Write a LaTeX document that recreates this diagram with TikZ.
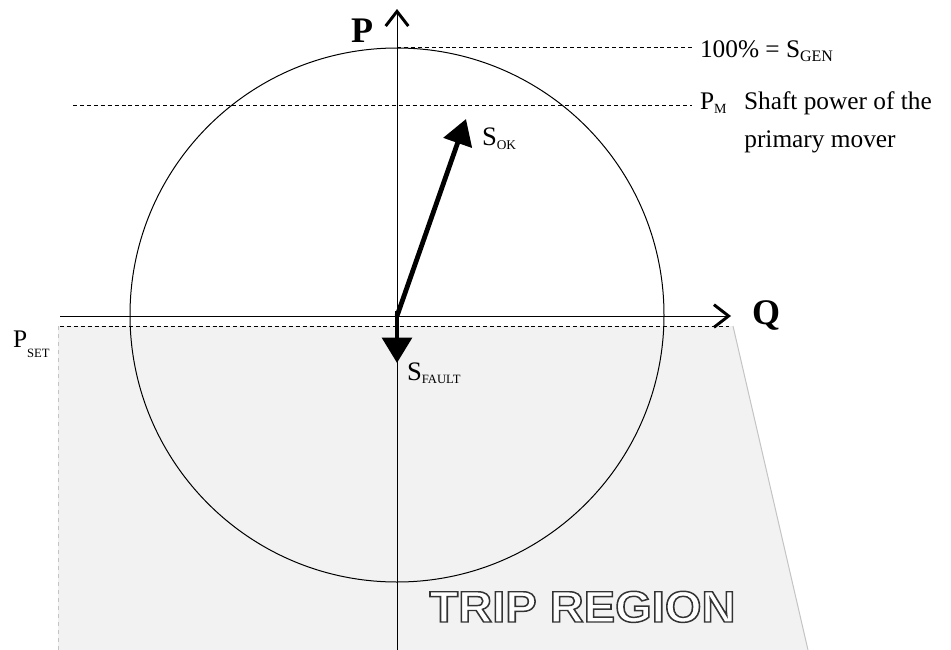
\documentclass[tikz,border=0pt]{standalone}
\usepackage{fontspec}
\setmainfont{Liberation Serif}
\newfontfamily\tripfont{Liberation Sans}
\usetikzlibrary{arrows.meta}
\definecolor{tripgray}{HTML}{F2F2F2}
\definecolor{edgegray}{HTML}{C4C4C4}
% #1 size, #2 drop, #3 text
\newcommand{\lowsub}[3]{\raisebox{-#2}{\fontsize{#1}{#1}\selectfont #3}}
\newcommand{\outlinetext}[1]{{\color{white}\special{pdf:literal direct 0.2 G 1.1 w 2 Tr}#1\special{pdf:literal direct 0 Tr}}}
\begin{document}
\begin{tikzpicture}[x=0.75pt,y=-0.75pt,
  txt/.style={inner sep=0pt,outer sep=0pt,anchor=base west,font=\fontsize{19}{22}\selectfont},
  bigtxt/.style={inner sep=0pt,outer sep=0pt,anchor=base west,font=\fontsize{20}{24}\selectfont},
  axlbl/.style={inner sep=0pt,outer sep=0pt,font=\fontsize{27}{30}\selectfont\bfseries},
  guide/.style={line width=0.75pt,dash pattern=on 3pt off 2.2pt},
  axis/.style={line width=0.75pt,-{Straight Barb[length=11pt,width=17pt,line width=2.2pt]}},
  vec/.style={line width=3.6pt,line join=round,-{Triangle[length=19pt,width=22pt]}},
  trip/.style={inner sep=0pt,outer sep=0pt,anchor=base,font=\fontsize{33}{35}\selectfont\tripfont\bfseries,xscale=1.07}]
\useasboundingbox (0,0) rectangle (951,650);
% trip region
\coordinate (g1) at (58,326);
\coordinate (g2) at (733,326);
\coordinate (g3) at (808,650);
\coordinate (g4) at (58,650);
\fill[tripgray] (g1) -- (g2) -- (g3) -- (g4) -- cycle;
\draw[edgegray,line width=0.75pt] (g2) -- (g3);
\draw[edgegray,line width=0.75pt,dashed] (g1) -- (g4);
% circle
\coordinate (O) at (397,316);
\coordinate (C) at (397,315);
\draw[line width=0.75pt] (C) circle [radius=267];
% axes
\coordinate (vbot) at (397,650);
\coordinate (vtop) at (397,9);
\coordinate (hleft) at (60,316);
\coordinate (hright) at (731,316);
\draw[axis] (vbot) -- (vtop);
\draw[axis] (hleft) -- (hright);
% guide lines
\coordinate (d1a) at (397,47);
\coordinate (d1b) at (692,47);
\coordinate (d2a) at (73,105);
\coordinate (d2b) at (692,105);
\coordinate (d3a) at (60,326);
\coordinate (d3b) at (729,326);
\draw[guide] (d1a) -- (d1b);
\draw[guide] (d2a) -- (d2b);
\draw[guide] (d3a) -- (d3b);
% vectors
\coordinate (ok) at (466,119);
\coordinate (fs) at (397,311);
\coordinate (fault) at (397,363);
\draw[vec] (O) -- (ok);
\draw[vec] (fs) -- (fault);
% labels
\node[axlbl] (P) at (362,31) {P};
\node[axlbl] (Q) at (766,315) {Q};
\node[txt] (gen) at (700,57) {100\% = S\lowsub{12}{3.5pt}{GEN}};
\node[txt] (pm) at (700,109) {P\lowsub{10.5}{3.5pt}{M}};
\node[txt] (shaft) at (744,109) {Shaft power of the};
\node[txt,anchor=base] (mover) at (820,147) {primary mover};
\node[txt] (pset) at (13,347) {P\lowsub{9.5}{7.5pt}{SET}};
\node[bigtxt] (sok) at (482,145) {S\lowsub{10}{3pt}{OK}};
\node[bigtxt] (sfault) at (407,380) {S\lowsub{9.5}{2.5pt}{FAULT}};
% outlined text
\node[trip] (trip) at (582.5,622) {\outlinetext{TRIP REGION}};
\end{tikzpicture}
\end{document}
